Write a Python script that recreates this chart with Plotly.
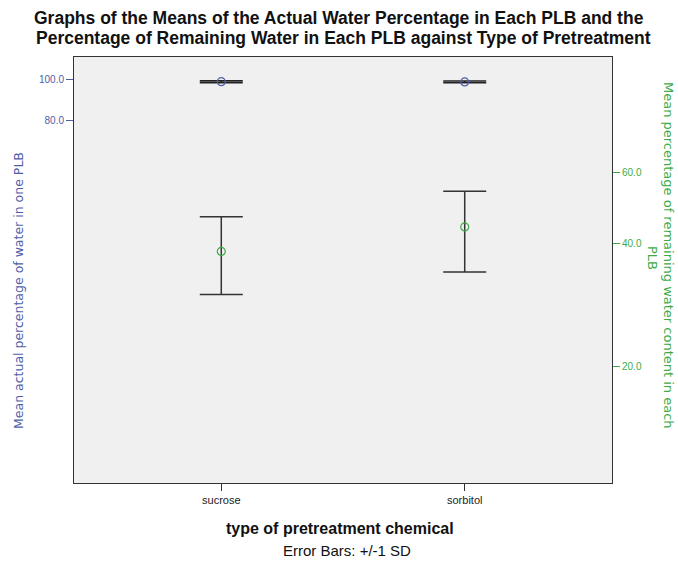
import plotly.graph_objects as go

categories = ["sucrose", "sorbitol"]
actual_mean = [98.7, 98.6]
actual_sd = [0.5, 0.5]
remaining_mean = [38.3, 44.0]
remaining_sd = [8.3, 9.9]

left_ticks = [80, 100]
left_ticktext = ["80.0", "100.0"]
right_ticks = [20, 40, 60]
right_ticktext = ["20.0", "40.0", "60.0"]

title_lines = ["Graphs of the Means of the Actual Water Percentage in Each PLB and the",
               "Percentage of Remaining Water in Each PLB against Type of Pretreatment"]
right_title_lines = ["Mean percentage of remaining water content in each", "PLB"]

BLUE = "#4f5ea8"
GREEN = "#3cab46"
FONT = "Liberation Sans, Arial, sans-serif"
PH = 426.0  # plot height in px
PW = 538.0  # plot width in px


def py(pix):
    return 1 - (pix - 57) / PH


def px(pix):
    return (pix - 74) / PW


fig = go.Figure()
fig.add_trace(go.Scatter(
    x=[0, 1], y=actual_mean, mode="markers",
    marker=dict(symbol="circle-open", size=8, color=BLUE, line=dict(width=1.2)),
    error_y=dict(type="data", array=actual_sd, visible=True, color="#222222",
                 thickness=1.6, width=21.5),
    yaxis="y", showlegend=False))
fig.add_trace(go.Scatter(
    x=[0, 1], y=remaining_mean, mode="markers",
    marker=dict(symbol="circle-open", size=8, color=GREEN, line=dict(width=1.2)),
    error_y=dict(type="data", array=remaining_sd, visible=True, color="#333333",
                 thickness=1.5, width=21.5),
    yaxis="y2", showlegend=False))

annotations = [
    dict(text="<b>%s</b>" % title_lines[0], xref="paper", yref="paper", x=px(339), y=py(18),
         xanchor="center", yanchor="middle", showarrow=False,
         font=dict(size=17.5, color="#111111")),
    dict(text="<b>%s</b>" % title_lines[1], xref="paper", yref="paper", x=px(343), y=py(38),
         xanchor="center", yanchor="middle", showarrow=False,
         font=dict(size=17.5, color="#111111")),
    dict(text="Mean actual percentage of water in one PLB", textangle=-90,
         xref="paper", yref="paper", x=px(18), y=py(291), xanchor="center",
         yanchor="middle", showarrow=False,
         font=dict(size=12.5, color=BLUE, family="DejaVu Sans")),
    dict(text=right_title_lines[0], textangle=90,
         xref="paper", yref="paper", x=px(669), y=py(255), xanchor="center",
         yanchor="middle", showarrow=False,
         font=dict(size=13, color=GREEN, family="DejaVu Sans")),
    dict(text=right_title_lines[1], textangle=90,
         xref="paper", yref="paper", x=px(653), y=py(258), xanchor="center",
         yanchor="middle", showarrow=False,
         font=dict(size=13, color=GREEN, family="DejaVu Sans")),
    dict(text="<b>type of pretreatment chemical</b>", xref="paper", yref="paper",
         x=px(340), y=py(528), xanchor="center", yanchor="middle", showarrow=False,
         font=dict(size=16, color="#111111")),
    dict(text="Error Bars: +/-1 SD", xref="paper", yref="paper",
         x=px(347), y=py(550), xanchor="center", yanchor="middle", showarrow=False,
         font=dict(size=15, color="#111111")),
]

fig.update_layout(
    width=678, height=561,
    margin=dict(l=74, r=66, t=57, b=78),
    paper_bgcolor="white", plot_bgcolor="#f0f0f0",
    font=dict(family=FONT),
    xaxis=dict(range=[-0.605, 1.605], tickvals=[0, 1], ticktext=categories,
               showgrid=False, zeroline=False, showline=True, linecolor="#333333",
               linewidth=1, mirror=True, ticks="outside", ticklen=7, tickcolor="#333333",
               tickfont=dict(size=11, color="#222222")),
    yaxis=dict(type="log", range=[1.0456, 2.0527], tickvals=left_ticks,
               ticktext=left_ticktext, showgrid=False, zeroline=False,
               showline=True, linecolor="#333333", linewidth=1,
               ticks="outside", ticklen=7, tickcolor=BLUE,
               tickfont=dict(size=10, color=BLUE)),
    yaxis2=dict(type="log", range=[1.013, 2.062], tickvals=right_ticks,
                ticktext=right_ticktext, overlaying="y", side="right",
                showgrid=False, zeroline=False, showline=True, linecolor="#333333",
                linewidth=1, ticks="outside", ticklen=7, tickcolor=GREEN,
                tickfont=dict(size=10, color=GREEN)),
    annotations=annotations,
)

fig.write_html("out.html")
